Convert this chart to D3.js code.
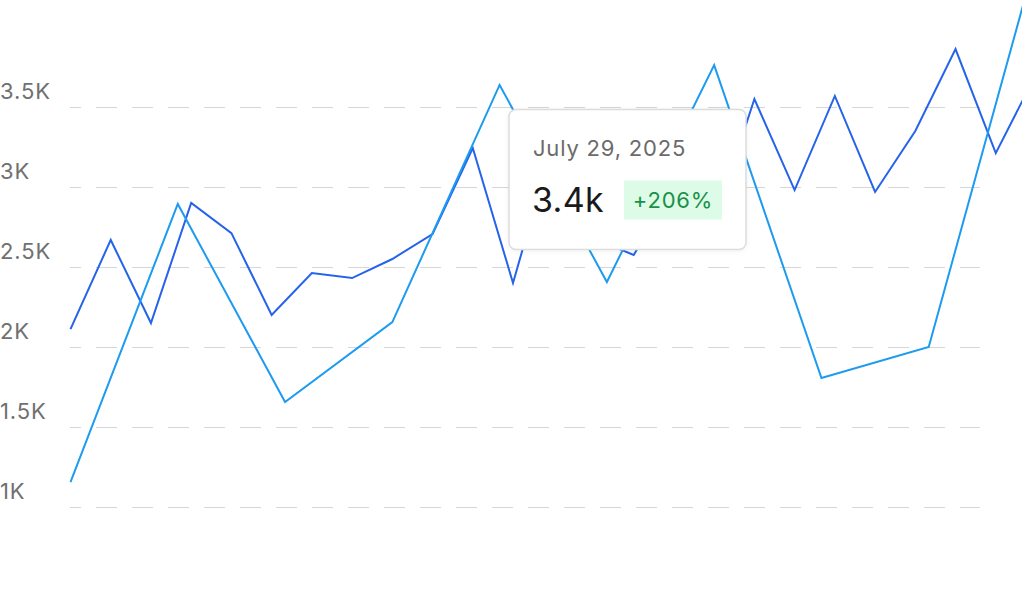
<!DOCTYPE html>
<html>
<head>
<meta charset="utf-8">
<script src="https://cdn.jsdelivr.net/npm/d3@7"></script>
<style>
  html, body { margin: 0; padding: 0; background: #fff; overflow: hidden; }
  svg { display: block; font-family: Inter, "Noto Sans", sans-serif; }
</style>
</head>
<body>
<svg id="chart" width="1022" height="598"></svg>
<script>
// y axis ticks and their labels
var tickValues = [1000, 1500, 2000, 2500, 3000, 3500];
var tickLabels = ["1K", "1.5K", "2K", "2.5K", "3K", "3.5K"];

// current period (dark blue), one point per step
var currentValues = [2112, 2669, 2150, 2900, 2712, 2200, 2462, 2431, 2550, 2706,
                     3244, 2400, 3280, 2680, 2575, 3000, 2781, 3550, 2981, 3569,
                     2969, 3350, 3862, 3212, 3705];

// comparison period (light blue), fewer points over the same span
var previousValues = [1156, 2894, 1656, 2156, 3638, 2406, 3762, 1806, 2000, 4430];

// tooltip content
var tipDate = "July 29, 2025";
var tipValue = "3.4k";
var tipChange = "+206%";

var svg = d3.select("#chart");

var y = d3.scaleLinear().domain([1000, 3500]).range([507, 107]);

var xCurrent = d3.scalePoint()
    .domain(d3.range(currentValues.length))
    .range([70.5, 1036]);

var xPrevious = d3.scalePoint()
    .domain(d3.range(previousValues.length))
    .range([70.5, 1036]);

// grid + labels
var yAxis = d3.axisRight(y)
    .tickValues(tickValues)
    .tickSize(910)
    .tickFormat(function (d, i) { return tickLabels[i]; });

var axisG = svg.append("g")
    .attr("class", "y axis")
    .attr("transform", "translate(70,0)")
    .call(yAxis);

axisG.select(".domain").remove();
axisG.selectAll(".tick line")
    .attr("stroke", "#d6d6d6")
    .attr("stroke-width", 1)
    .attr("stroke-dasharray", "21 15")
    .attr("stroke-dashoffset", 10);
axisG.selectAll(".tick text")
    .attr("x", -70)
    .attr("dy", -9)
    .attr("text-anchor", "start")
    .attr("fill", "#707070")
    .style("font-family", "Inter, sans-serif")
    .style("font-size", "22px")
    .style("letter-spacing", "0.9px");

var lineCurrent = d3.line()
    .x(function (d, i) { return xCurrent(i); })
    .y(function (d) { return y(d); });

var linePrevious = d3.line()
    .x(function (d, i) { return xPrevious(i); })
    .y(function (d) { return y(d); });

svg.append("path")
    .datum(currentValues)
    .attr("fill", "none")
    .attr("stroke", "#2563eb")
    .attr("stroke-width", 2)
    .attr("stroke-linejoin", "miter")
    .attr("d", lineCurrent);

svg.append("path")
    .datum(previousValues)
    .attr("fill", "none")
    .attr("stroke", "#1d9bf0")
    .attr("stroke-width", 2)
    .attr("stroke-linejoin", "miter")
    .attr("d", linePrevious);

// tooltip
var defs = svg.append("defs");
defs.append("filter")
    .attr("id", "tipShadow")
    .attr("x", "-10%").attr("y", "-10%")
    .attr("width", "120%").attr("height", "130%")
    .append("feDropShadow")
    .attr("dx", 0).attr("dy", 1)
    .attr("stdDeviation", 2)
    .attr("flood-color", "#000")
    .attr("flood-opacity", 0.06);

var tip = svg.append("g").attr("transform", "translate(509,109.5)");

tip.append("rect")
    .attr("width", 237)
    .attr("height", 140)
    .attr("rx", 7)
    .attr("fill", "#fff")
    .attr("stroke", "#dcdcdc")
    .attr("stroke-width", 1.5)
    .attr("filter", "url(#tipShadow)");

tip.append("text")
    .attr("x", 24)
    .attr("y", 46)
    .attr("fill", "#6b6b6b")
    .style("font-size", "22px")
    .style("letter-spacing", "0.8px")
    .text(tipDate);

tip.append("text")
    .attr("x", 23)
    .attr("y", 102)
    .attr("fill", "#1a1a1a")
    .style("font-size", "34px")
    .style("letter-spacing", "0.3px")
    .text(tipValue);

tip.append("rect")
    .attr("x", 115)
    .attr("y", 71)
    .attr("width", 98)
    .attr("height", 39)
    .attr("fill", "#dcfce7");

tip.append("text")
    .attr("x", 164)
    .attr("y", 98.5)
    .attr("text-anchor", "middle")
    .attr("fill", "#1a9048")
    .style("font-size", "22px")
    .style("letter-spacing", "0.8px")
    .text(tipChange);
</script>
</body>
</html>
